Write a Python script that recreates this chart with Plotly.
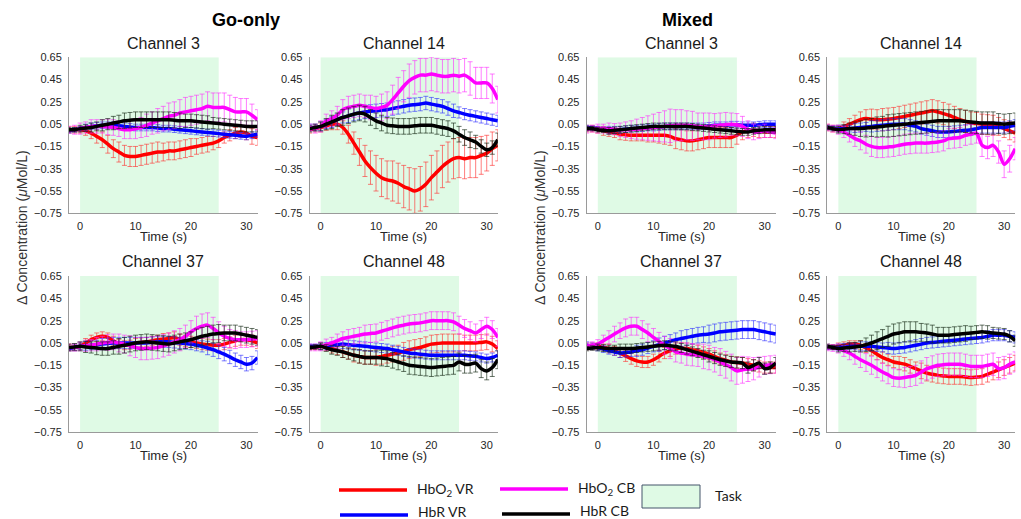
import plotly.graph_objects as go

# ---------------- data ----------------
time_s = list(range(-2, 33))
y_ticks = [0.65, 0.45, 0.25, 0.05, -0.15, -0.35, -0.55, -0.75]
y_tick_text = ["0.65", "0.45", "0.25", "0.05", "−0.15", "−0.35", "−0.55", "−0.75"]
x_ticks = [0, 10, 20, 30]
task_window = [0, 25]

series_names = ["HbO<sub>2</sub> VR", "HbR VR", "HbO<sub>2</sub> CB", "HbR CB"]
group_titles = ["Go-only", "Mixed"]
channel_titles = ["Channel 3", "Channel 14", "Channel 37", "Channel 48"]

# Go-only, Channel 3
go3_hbo2_vr = [0.0, 0.0, 0.0, -0.01, -0.03, -0.06, -0.09, -0.13, -0.17, -0.2, -0.23, -0.24, -0.24, -0.23, -0.22, -0.21, -0.2, -0.2, -0.19, -0.19, -0.18, -0.17, -0.16, -0.15, -0.14, -0.13, -0.12, -0.1, -0.07, -0.05, -0.03, -0.02, -0.03, -0.06, -0.07]
go3_hbo2_vr_err = [0.03, 0.03, 0.03, 0.04, 0.05, 0.06, 0.07, 0.08, 0.08, 0.09, 0.09, 0.09, 0.09, 0.09, 0.09, 0.09, 0.09, 0.08, 0.08, 0.08, 0.08, 0.08, 0.08, 0.07, 0.07, 0.07, 0.06, 0.06, 0.05, 0.05, 0.05, 0.05, 0.06, 0.07, 0.07]
go3_hbr_vr = [-0.01, 0.0, 0.01, 0.02, 0.03, 0.035, 0.04, 0.04, 0.04, 0.035, 0.03, 0.025, 0.02, 0.02, 0.02, 0.02, 0.015, 0.01, 0.01, 0.005, 0.0, -0.005, -0.01, -0.015, -0.02, -0.025, -0.03, -0.035, -0.04, -0.045, -0.05, -0.055, -0.06, -0.05, -0.04]
go3_hbr_vr_err = [0.02, 0.02, 0.02, 0.03, 0.03, 0.03, 0.03, 0.03, 0.03, 0.03, 0.03, 0.03, 0.03, 0.03, 0.03, 0.03, 0.03, 0.03, 0.03, 0.03, 0.03, 0.03, 0.03, 0.03, 0.03, 0.03, 0.03, 0.03, 0.03, 0.03, 0.03, 0.03, 0.03, 0.03, 0.03]
go3_hbo2_cb = [0.0, 0.0, 0.01, 0.02, 0.03, 0.03, 0.03, 0.025, 0.02, 0.01, 0.0, 0.0, 0.01, 0.02, 0.04, 0.06, 0.08, 0.1, 0.12, 0.13, 0.15, 0.16, 0.17, 0.18, 0.19, 0.21, 0.2, 0.2, 0.2, 0.18, 0.16, 0.16, 0.16, 0.13, 0.09]
go3_hbo2_cb_err = [0.03, 0.04, 0.05, 0.05, 0.06, 0.06, 0.06, 0.07, 0.07, 0.07, 0.08, 0.08, 0.09, 0.09, 0.1, 0.1, 0.11, 0.11, 0.12, 0.12, 0.12, 0.13, 0.13, 0.13, 0.13, 0.13, 0.13, 0.13, 0.13, 0.13, 0.13, 0.12, 0.12, 0.1, 0.09]
go3_hbr_cb = [0.0, 0.0, 0.01, 0.015, 0.02, 0.03, 0.04, 0.05, 0.06, 0.07, 0.08, 0.085, 0.09, 0.09, 0.09, 0.09, 0.09, 0.09, 0.09, 0.085, 0.08, 0.08, 0.08, 0.075, 0.07, 0.065, 0.06, 0.055, 0.05, 0.045, 0.04, 0.035, 0.03, 0.03, 0.03]
go3_hbr_cb_err = [0.02, 0.02, 0.03, 0.03, 0.04, 0.04, 0.05, 0.05, 0.06, 0.06, 0.07, 0.07, 0.07, 0.07, 0.07, 0.07, 0.07, 0.07, 0.07, 0.07, 0.07, 0.06, 0.06, 0.06, 0.06, 0.06, 0.05, 0.05, 0.05, 0.05, 0.05, 0.05, 0.05, 0.05, 0.05]

# Go-only, Channel 14
go14_hbo2_vr = [0.0, 0.01, 0.02, 0.035, 0.05, 0.05, 0.02, -0.04, -0.12, -0.2, -0.28, -0.34, -0.39, -0.43, -0.45, -0.46, -0.48, -0.51, -0.53, -0.55, -0.53, -0.49, -0.43, -0.38, -0.33, -0.29, -0.26, -0.25, -0.26, -0.25, -0.25, -0.23, -0.21, -0.17, -0.14]
go14_hbo2_vr_err = [0.03, 0.03, 0.04, 0.04, 0.05, 0.05, 0.06, 0.08, 0.1, 0.12, 0.14, 0.15, 0.16, 0.17, 0.17, 0.18, 0.18, 0.19, 0.19, 0.2, 0.2, 0.2, 0.2, 0.19, 0.19, 0.18, 0.18, 0.18, 0.18, 0.18, 0.18, 0.17, 0.16, 0.15, 0.14]
go14_hbr_vr = [0.02, 0.02, 0.03, 0.05, 0.07, 0.09, 0.11, 0.125, 0.14, 0.15, 0.16, 0.165, 0.17, 0.175, 0.18, 0.19, 0.2, 0.21, 0.22, 0.225, 0.23, 0.24, 0.23, 0.22, 0.21, 0.19, 0.17, 0.155, 0.14, 0.13, 0.12, 0.11, 0.1, 0.09, 0.08]
go14_hbr_vr_err = [0.03, 0.03, 0.04, 0.04, 0.05, 0.05, 0.05, 0.06, 0.06, 0.06, 0.06, 0.06, 0.06, 0.06, 0.06, 0.06, 0.06, 0.06, 0.06, 0.06, 0.06, 0.06, 0.06, 0.06, 0.06, 0.06, 0.06, 0.05, 0.05, 0.05, 0.05, 0.05, 0.05, 0.05, 0.05]
go14_hbo2_cb = [0.02, 0.01, 0.03, 0.08, 0.1, 0.13, 0.18, 0.2, 0.21, 0.22, 0.21, 0.2, 0.19, 0.2, 0.22, 0.27, 0.33, 0.39, 0.44, 0.47, 0.49, 0.49, 0.5, 0.49, 0.48, 0.48, 0.49, 0.48, 0.49, 0.46, 0.42, 0.42, 0.42, 0.37, 0.27]
go14_hbo2_cb_err = [0.03, 0.04, 0.05, 0.06, 0.07, 0.08, 0.09, 0.1, 0.1, 0.1, 0.1, 0.11, 0.11, 0.12, 0.12, 0.13, 0.14, 0.14, 0.15, 0.15, 0.15, 0.15, 0.15, 0.15, 0.15, 0.15, 0.15, 0.15, 0.15, 0.15, 0.14, 0.14, 0.14, 0.13, 0.12]
go14_hbr_cb = [0.01, 0.02, 0.03, 0.05, 0.07, 0.09, 0.11, 0.125, 0.14, 0.15, 0.14, 0.11, 0.08, 0.06, 0.04, 0.035, 0.03, 0.03, 0.03, 0.035, 0.04, 0.04, 0.04, 0.03, 0.02, 0.01, -0.01, -0.04, -0.07, -0.09, -0.11, -0.15, -0.18, -0.16, -0.09]
go14_hbr_cb_err = [0.03, 0.03, 0.04, 0.05, 0.06, 0.06, 0.07, 0.07, 0.07, 0.07, 0.07, 0.07, 0.07, 0.07, 0.07, 0.07, 0.07, 0.07, 0.07, 0.07, 0.07, 0.07, 0.07, 0.07, 0.07, 0.07, 0.07, 0.07, 0.07, 0.07, 0.06, 0.06, 0.06, 0.06, 0.06]

# Go-only, Channel 37
go37_hbo2_vr = [0.01, 0.01, 0.02, 0.05, 0.08, 0.1, 0.11, 0.1, 0.07, 0.04, 0.03, 0.035, 0.05, 0.055, 0.06, 0.07, 0.08, 0.085, 0.09, 0.1, 0.08, 0.07, 0.06, 0.05, 0.04, 0.035, 0.03, 0.03, 0.04, 0.055, 0.07, 0.08, 0.08, 0.07, 0.05]
go37_hbo2_vr_err = [0.03, 0.03, 0.03, 0.04, 0.04, 0.04, 0.04, 0.04, 0.04, 0.04, 0.04, 0.04, 0.04, 0.04, 0.04, 0.04, 0.04, 0.05, 0.05, 0.05, 0.05, 0.05, 0.05, 0.05, 0.05, 0.05, 0.05, 0.05, 0.05, 0.05, 0.05, 0.05, 0.05, 0.05, 0.05]
go37_hbr_vr = [0.0, 0.01, 0.02, 0.025, 0.03, 0.035, 0.04, 0.045, 0.05, 0.05, 0.05, 0.05, 0.05, 0.05, 0.05, 0.055, 0.06, 0.06, 0.06, 0.055, 0.05, 0.045, 0.04, 0.03, 0.02, 0.005, -0.01, -0.03, -0.05, -0.075, -0.1, -0.12, -0.14, -0.13, -0.08]
go37_hbr_vr_err = [0.02, 0.03, 0.03, 0.04, 0.04, 0.04, 0.05, 0.05, 0.05, 0.05, 0.05, 0.05, 0.05, 0.05, 0.05, 0.05, 0.05, 0.05, 0.05, 0.05, 0.05, 0.05, 0.05, 0.05, 0.05, 0.06, 0.06, 0.06, 0.06, 0.06, 0.06, 0.06, 0.06, 0.06, 0.06]
go37_hbo2_cb = [0.01, 0.01, 0.02, 0.025, 0.03, 0.04, 0.05, 0.055, 0.06, 0.05, 0.04, 0.025, 0.01, 0.0, 0.0, 0.005, 0.01, 0.025, 0.04, 0.06, 0.08, 0.11, 0.15, 0.18, 0.2, 0.21, 0.18, 0.14, 0.11, 0.09, 0.08, 0.08, 0.08, 0.085, 0.09]
go37_hbo2_cb_err = [0.03, 0.03, 0.04, 0.05, 0.05, 0.06, 0.06, 0.07, 0.07, 0.08, 0.08, 0.09, 0.09, 0.1, 0.1, 0.1, 0.1, 0.1, 0.1, 0.1, 0.1, 0.1, 0.1, 0.11, 0.11, 0.11, 0.1, 0.1, 0.09, 0.08, 0.08, 0.07, 0.07, 0.07, 0.07]
go37_hbr_cb = [0.01, 0.015, 0.02, 0.015, 0.01, 0.005, 0.0, 0.0, 0.01, 0.02, 0.03, 0.04, 0.05, 0.055, 0.06, 0.055, 0.05, 0.045, 0.04, 0.05, 0.06, 0.07, 0.08, 0.095, 0.11, 0.12, 0.13, 0.135, 0.14, 0.14, 0.14, 0.13, 0.12, 0.11, 0.1]
go37_hbr_cb_err = [0.03, 0.03, 0.04, 0.05, 0.05, 0.06, 0.06, 0.06, 0.06, 0.07, 0.07, 0.07, 0.07, 0.07, 0.07, 0.07, 0.07, 0.07, 0.07, 0.07, 0.07, 0.07, 0.07, 0.08, 0.08, 0.08, 0.08, 0.08, 0.07, 0.07, 0.07, 0.07, 0.07, 0.07, 0.07]

# Go-only, Channel 48
go48_hbo2_vr = [0.01, 0.01, 0.02, 0.01, 0.0, -0.015, -0.03, -0.045, -0.06, -0.07, -0.08, -0.08, -0.08, -0.07, -0.06, -0.05, -0.04, -0.025, -0.01, 0.0, 0.01, 0.025, 0.04, 0.045, 0.05, 0.05, 0.05, 0.05, 0.05, 0.05, 0.05, 0.055, 0.06, 0.04, 0.0]
go48_hbo2_vr_err = [0.02, 0.02, 0.03, 0.03, 0.04, 0.04, 0.05, 0.05, 0.06, 0.06, 0.06, 0.06, 0.07, 0.07, 0.07, 0.07, 0.07, 0.08, 0.08, 0.08, 0.08, 0.08, 0.08, 0.08, 0.08, 0.08, 0.08, 0.08, 0.07, 0.07, 0.07, 0.07, 0.07, 0.07, 0.07]
go48_hbr_vr = [0.02, 0.02, 0.02, 0.025, 0.03, 0.035, 0.04, 0.035, 0.03, 0.025, 0.02, 0.015, 0.01, 0.005, 0.0, -0.01, -0.02, -0.03, -0.04, -0.045, -0.05, -0.055, -0.06, -0.06, -0.06, -0.06, -0.06, -0.06, -0.06, -0.065, -0.07, -0.08, -0.09, -0.08, -0.06]
go48_hbr_vr_err = [0.02, 0.02, 0.03, 0.03, 0.03, 0.04, 0.04, 0.04, 0.04, 0.04, 0.04, 0.04, 0.04, 0.04, 0.04, 0.04, 0.04, 0.04, 0.04, 0.04, 0.04, 0.04, 0.04, 0.04, 0.04, 0.04, 0.04, 0.04, 0.04, 0.04, 0.04, 0.04, 0.04, 0.04, 0.04]
go48_hbo2_cb = [0.01, 0.01, 0.02, 0.035, 0.05, 0.07, 0.09, 0.1, 0.11, 0.12, 0.13, 0.135, 0.14, 0.155, 0.17, 0.185, 0.2, 0.21, 0.22, 0.225, 0.23, 0.24, 0.25, 0.25, 0.25, 0.25, 0.24, 0.21, 0.18, 0.16, 0.14, 0.17, 0.2, 0.17, 0.1]
go48_hbo2_cb_err = [0.03, 0.03, 0.04, 0.05, 0.05, 0.06, 0.06, 0.07, 0.07, 0.07, 0.08, 0.08, 0.08, 0.08, 0.08, 0.08, 0.08, 0.08, 0.08, 0.08, 0.08, 0.08, 0.08, 0.08, 0.08, 0.08, 0.08, 0.08, 0.08, 0.08, 0.08, 0.08, 0.08, 0.08, 0.08]
go48_hbr_cb = [0.01, 0.015, 0.02, 0.005, -0.01, -0.02, -0.03, -0.045, -0.06, -0.07, -0.08, -0.08, -0.08, -0.085, -0.09, -0.105, -0.12, -0.135, -0.15, -0.155, -0.16, -0.165, -0.17, -0.165, -0.16, -0.155, -0.15, -0.12, -0.14, -0.14, -0.13, -0.18, -0.2, -0.17, -0.1]
go48_hbr_cb_err = [0.02, 0.02, 0.03, 0.03, 0.04, 0.04, 0.05, 0.05, 0.05, 0.06, 0.06, 0.06, 0.06, 0.07, 0.07, 0.07, 0.07, 0.07, 0.08, 0.08, 0.08, 0.08, 0.08, 0.08, 0.08, 0.08, 0.08, 0.08, 0.08, 0.08, 0.08, 0.08, 0.08, 0.08, 0.08]

# Mixed, Channel 3
mx3_hbo2_vr = [0.01, 0.01, 0.0, -0.01, -0.02, -0.03, -0.04, -0.045, -0.05, -0.05, -0.05, -0.05, -0.05, -0.05, -0.05, -0.06, -0.08, -0.09, -0.1, -0.1, -0.09, -0.08, -0.07, -0.07, -0.07, -0.07, -0.07, -0.05, -0.02, -0.01, 0.0, -0.01, -0.02, -0.02, -0.02]
mx3_hbo2_vr_err = [0.03, 0.03, 0.03, 0.04, 0.04, 0.04, 0.05, 0.05, 0.05, 0.05, 0.05, 0.06, 0.06, 0.07, 0.08, 0.08, 0.09, 0.09, 0.09, 0.09, 0.09, 0.09, 0.09, 0.09, 0.09, 0.09, 0.09, 0.08, 0.07, 0.06, 0.06, 0.06, 0.05, 0.05, 0.05]
mx3_hbr_vr = [0.02, 0.015, 0.01, 0.005, 0.0, 0.0, 0.0, 0.005, 0.01, 0.01, 0.015, 0.02, 0.02, 0.025, 0.03, 0.03, 0.03, 0.03, 0.03, 0.03, 0.03, 0.03, 0.035, 0.04, 0.04, 0.04, 0.045, 0.045, 0.04, 0.04, 0.04, 0.045, 0.05, 0.05, 0.05]
mx3_hbr_vr_err = [0.02, 0.02, 0.02, 0.02, 0.03, 0.03, 0.03, 0.03, 0.03, 0.03, 0.03, 0.03, 0.03, 0.03, 0.03, 0.03, 0.03, 0.03, 0.03, 0.03, 0.03, 0.03, 0.03, 0.03, 0.03, 0.03, 0.03, 0.03, 0.03, 0.03, 0.03, 0.03, 0.03, 0.03, 0.03]
mx3_hbo2_cb = [0.0, 0.01, 0.01, 0.01, 0.01, 0.005, 0.0, 0.0, 0.0, 0.005, 0.01, 0.015, 0.02, 0.025, 0.03, 0.035, 0.04, 0.04, 0.04, 0.035, 0.03, 0.03, 0.03, 0.035, 0.04, 0.045, 0.05, 0.045, 0.03, 0.0, -0.02, -0.02, -0.01, -0.02, -0.03]
mx3_hbo2_cb_err = [0.03, 0.03, 0.04, 0.04, 0.05, 0.05, 0.06, 0.07, 0.08, 0.09, 0.1, 0.11, 0.12, 0.13, 0.14, 0.15, 0.14, 0.14, 0.13, 0.13, 0.12, 0.12, 0.12, 0.11, 0.11, 0.11, 0.1, 0.1, 0.09, 0.08, 0.07, 0.06, 0.06, 0.05, 0.05]
mx3_hbr_cb = [0.01, 0.01, 0.0, -0.005, -0.01, -0.005, 0.0, 0.005, 0.01, 0.015, 0.02, 0.025, 0.03, 0.03, 0.03, 0.03, 0.03, 0.03, 0.03, 0.025, 0.02, 0.015, 0.01, 0.005, 0.0, -0.005, -0.01, -0.015, -0.02, -0.02, -0.01, -0.005, 0.0, 0.0, 0.0]
mx3_hbr_cb_err = [0.02, 0.02, 0.02, 0.02, 0.03, 0.03, 0.03, 0.03, 0.03, 0.03, 0.03, 0.03, 0.03, 0.03, 0.03, 0.03, 0.03, 0.03, 0.03, 0.03, 0.03, 0.03, 0.03, 0.03, 0.03, 0.03, 0.03, 0.03, 0.03, 0.03, 0.03, 0.03, 0.03, 0.03, 0.03]

# Mixed, Channel 14
mx14_hbo2_vr = [0.02, 0.01, 0.01, 0.03, 0.05, 0.07, 0.09, 0.1, 0.095, 0.09, 0.09, 0.095, 0.1, 0.11, 0.12, 0.13, 0.14, 0.15, 0.16, 0.17, 0.16, 0.145, 0.13, 0.11, 0.09, 0.075, 0.06, 0.055, 0.05, 0.045, 0.04, 0.03, 0.01, -0.01, -0.03]
mx14_hbo2_vr_err = [0.03, 0.03, 0.03, 0.04, 0.05, 0.06, 0.07, 0.08, 0.09, 0.09, 0.1, 0.1, 0.1, 0.1, 0.1, 0.1, 0.1, 0.1, 0.1, 0.1, 0.1, 0.1, 0.1, 0.1, 0.1, 0.1, 0.1, 0.1, 0.09, 0.09, 0.09, 0.08, 0.08, 0.08, 0.08]
mx14_hbr_vr = [0.02, 0.015, 0.01, 0.01, 0.01, 0.015, 0.02, 0.025, 0.03, 0.035, 0.04, 0.045, 0.05, 0.05, 0.05, 0.04, 0.03, 0.01, 0.0, -0.01, -0.02, -0.02, -0.02, -0.015, -0.01, -0.005, 0.0, 0.01, 0.02, 0.02, 0.02, 0.02, 0.02, 0.03, 0.04]
mx14_hbr_vr_err = [0.02, 0.02, 0.03, 0.03, 0.03, 0.04, 0.04, 0.04, 0.05, 0.05, 0.05, 0.05, 0.05, 0.05, 0.05, 0.05, 0.05, 0.05, 0.05, 0.05, 0.05, 0.05, 0.05, 0.05, 0.05, 0.05, 0.05, 0.05, 0.05, 0.05, 0.05, 0.05, 0.05, 0.05, 0.05]
mx14_hbo2_cb = [0.02, 0.01, 0.0, -0.02, -0.05, -0.08, -0.1, -0.13, -0.15, -0.16, -0.16, -0.155, -0.15, -0.14, -0.13, -0.125, -0.12, -0.12, -0.12, -0.115, -0.11, -0.1, -0.08, -0.075, -0.07, -0.05, -0.04, -0.03, -0.14, -0.16, -0.14, -0.2, -0.31, -0.26, -0.17]
mx14_hbo2_cb_err = [0.03, 0.03, 0.04, 0.05, 0.06, 0.07, 0.08, 0.08, 0.09, 0.09, 0.09, 0.09, 0.09, 0.09, 0.09, 0.09, 0.09, 0.09, 0.09, 0.09, 0.09, 0.09, 0.09, 0.09, 0.09, 0.09, 0.09, 0.09, 0.1, 0.1, 0.1, 0.1, 0.12, 0.12, 0.1]
mx14_hbr_cb = [0.02, 0.01, 0.0, 0.005, 0.01, 0.01, 0.01, 0.015, 0.02, 0.025, 0.03, 0.035, 0.04, 0.045, 0.05, 0.055, 0.06, 0.065, 0.07, 0.075, 0.08, 0.08, 0.08, 0.08, 0.08, 0.075, 0.07, 0.065, 0.06, 0.06, 0.06, 0.055, 0.05, 0.055, 0.06]
mx14_hbr_cb_err = [0.02, 0.02, 0.03, 0.04, 0.05, 0.06, 0.07, 0.08, 0.08, 0.09, 0.09, 0.1, 0.1, 0.1, 0.1, 0.1, 0.1, 0.1, 0.1, 0.1, 0.1, 0.1, 0.1, 0.1, 0.1, 0.1, 0.1, 0.1, 0.1, 0.1, 0.1, 0.09, 0.09, 0.09, 0.09]

# Mixed, Channel 37
mx37_hbo2_vr = [0.02, 0.02, 0.02, 0.01, 0.0, -0.02, -0.04, -0.065, -0.09, -0.11, -0.12, -0.12, -0.1, -0.07, -0.04, -0.02, 0.0, 0.005, 0.0, -0.01, -0.02, -0.035, -0.05, -0.07, -0.09, -0.105, -0.12, -0.125, -0.13, -0.14, -0.15, -0.16, -0.17, -0.17, -0.17]
mx37_hbo2_vr_err = [0.03, 0.03, 0.03, 0.03, 0.04, 0.04, 0.04, 0.05, 0.05, 0.05, 0.05, 0.05, 0.05, 0.05, 0.05, 0.05, 0.05, 0.05, 0.05, 0.05, 0.05, 0.05, 0.05, 0.05, 0.05, 0.05, 0.05, 0.05, 0.05, 0.05, 0.05, 0.05, 0.05, 0.05, 0.05]
mx37_hbr_vr = [0.03, 0.02, 0.01, -0.005, -0.02, -0.03, -0.04, -0.035, -0.03, -0.02, -0.01, 0.005, 0.02, 0.035, 0.05, 0.065, 0.08, 0.09, 0.1, 0.11, 0.12, 0.125, 0.13, 0.14, 0.15, 0.155, 0.16, 0.165, 0.17, 0.17, 0.17, 0.16, 0.15, 0.14, 0.13]
mx37_hbr_vr_err = [0.03, 0.03, 0.03, 0.03, 0.03, 0.03, 0.04, 0.04, 0.04, 0.05, 0.05, 0.05, 0.05, 0.06, 0.06, 0.06, 0.06, 0.07, 0.07, 0.07, 0.07, 0.07, 0.08, 0.08, 0.08, 0.08, 0.08, 0.08, 0.08, 0.08, 0.08, 0.08, 0.08, 0.08, 0.08]
mx37_hbo2_cb = [0.02, 0.03, 0.04, 0.07, 0.1, 0.13, 0.16, 0.185, 0.2, 0.2, 0.17, 0.14, 0.1, 0.065, 0.03, 0.0, -0.03, -0.04, -0.05, -0.055, -0.06, -0.07, -0.08, -0.1, -0.12, -0.145, -0.17, -0.2, -0.19, -0.185, -0.18, -0.165, -0.15, -0.145, -0.14]
mx37_hbo2_cb_err = [0.03, 0.03, 0.04, 0.05, 0.06, 0.07, 0.07, 0.08, 0.08, 0.08, 0.08, 0.08, 0.08, 0.08, 0.08, 0.09, 0.09, 0.09, 0.1, 0.1, 0.1, 0.11, 0.11, 0.11, 0.12, 0.12, 0.12, 0.12, 0.12, 0.11, 0.1, 0.09, 0.08, 0.08, 0.08]
mx37_hbr_cb = [0.0, 0.005, 0.01, 0.005, 0.0, 0.0, 0.0, 0.0, 0.0, 0.005, 0.01, 0.015, 0.02, 0.025, 0.03, 0.025, 0.02, 0.005, -0.01, -0.025, -0.04, -0.055, -0.07, -0.085, -0.1, -0.11, -0.12, -0.125, -0.13, -0.17, -0.15, -0.13, -0.18, -0.17, -0.13]
mx37_hbr_cb_err = [0.02, 0.02, 0.03, 0.03, 0.03, 0.03, 0.04, 0.04, 0.04, 0.04, 0.04, 0.04, 0.04, 0.04, 0.04, 0.04, 0.04, 0.04, 0.04, 0.04, 0.04, 0.04, 0.05, 0.05, 0.05, 0.05, 0.05, 0.05, 0.05, 0.05, 0.05, 0.05, 0.05, 0.05, 0.05]

# Mixed, Channel 48
mx48_hbo2_vr = [0.01, 0.015, 0.02, 0.03, 0.04, 0.04, 0.03, 0.005, -0.02, -0.05, -0.08, -0.1, -0.12, -0.13, -0.14, -0.16, -0.18, -0.2, -0.22, -0.23, -0.24, -0.245, -0.25, -0.25, -0.25, -0.255, -0.26, -0.255, -0.25, -0.23, -0.21, -0.19, -0.17, -0.15, -0.13]
mx48_hbo2_vr_err = [0.02, 0.02, 0.03, 0.03, 0.03, 0.03, 0.04, 0.04, 0.04, 0.05, 0.05, 0.05, 0.05, 0.06, 0.06, 0.06, 0.06, 0.07, 0.07, 0.07, 0.07, 0.07, 0.07, 0.07, 0.07, 0.07, 0.07, 0.07, 0.07, 0.07, 0.07, 0.07, 0.07, 0.07, 0.07]
mx48_hbr_vr = [0.01, 0.01, 0.01, 0.015, 0.02, 0.02, 0.02, 0.02, 0.02, 0.015, 0.01, 0.005, 0.0, 0.005, 0.01, 0.02, 0.03, 0.04, 0.05, 0.055, 0.06, 0.065, 0.07, 0.075, 0.08, 0.085, 0.09, 0.095, 0.1, 0.11, 0.12, 0.12, 0.12, 0.11, 0.1]
mx48_hbr_vr_err = [0.02, 0.02, 0.03, 0.03, 0.03, 0.03, 0.04, 0.04, 0.04, 0.04, 0.04, 0.05, 0.05, 0.05, 0.05, 0.05, 0.05, 0.05, 0.05, 0.05, 0.05, 0.05, 0.05, 0.05, 0.05, 0.05, 0.05, 0.05, 0.05, 0.05, 0.05, 0.05, 0.05, 0.05, 0.05]
mx48_hbo2_cb = [0.01, 0.005, 0.0, -0.02, -0.04, -0.07, -0.1, -0.125, -0.15, -0.18, -0.21, -0.235, -0.26, -0.265, -0.26, -0.25, -0.24, -0.21, -0.18, -0.165, -0.15, -0.145, -0.14, -0.14, -0.14, -0.15, -0.16, -0.16, -0.16, -0.15, -0.14, -0.18, -0.17, -0.14, -0.12]
mx48_hbo2_cb_err = [0.03, 0.03, 0.04, 0.05, 0.06, 0.07, 0.07, 0.08, 0.08, 0.08, 0.08, 0.08, 0.08, 0.08, 0.09, 0.09, 0.09, 0.1, 0.1, 0.1, 0.1, 0.1, 0.1, 0.1, 0.1, 0.1, 0.1, 0.1, 0.1, 0.1, 0.1, 0.1, 0.1, 0.09, 0.09]
mx48_hbr_cb = [0.02, 0.01, 0.0, 0.005, 0.01, 0.015, 0.02, 0.035, 0.05, 0.07, 0.09, 0.11, 0.13, 0.14, 0.15, 0.15, 0.15, 0.145, 0.14, 0.13, 0.12, 0.12, 0.12, 0.125, 0.13, 0.135, 0.14, 0.145, 0.15, 0.145, 0.14, 0.135, 0.13, 0.11, 0.07]
mx48_hbr_cb_err = [0.02, 0.02, 0.03, 0.03, 0.04, 0.04, 0.05, 0.06, 0.07, 0.08, 0.08, 0.09, 0.09, 0.09, 0.09, 0.09, 0.09, 0.08, 0.08, 0.08, 0.07, 0.07, 0.07, 0.07, 0.07, 0.07, 0.06, 0.06, 0.06, 0.06, 0.05, 0.05, 0.05, 0.05, 0.05]

# ---------------- styling ----------------
line_colors = ["#ff0000", "#0000ff", "#ff00ff", "#000000"]
err_colors = ["rgba(255,40,40,0.6)", "rgba(40,40,255,0.6)",
              "rgba(255,40,255,0.6)", "rgba(20,40,20,0.65)"]
task_fill = "#dffae5"
font_family = "Liberation Sans, Arial, sans-serif"

panels = [
    ([go3_hbo2_vr, go3_hbr_vr, go3_hbo2_cb, go3_hbr_cb],
     [go3_hbo2_vr_err, go3_hbr_vr_err, go3_hbo2_cb_err, go3_hbr_cb_err], 0, 0, channel_titles[0]),
    ([go14_hbo2_vr, go14_hbr_vr, go14_hbo2_cb, go14_hbr_cb],
     [go14_hbo2_vr_err, go14_hbr_vr_err, go14_hbo2_cb_err, go14_hbr_cb_err], 1, 0, channel_titles[1]),
    ([go37_hbo2_vr, go37_hbr_vr, go37_hbo2_cb, go37_hbr_cb],
     [go37_hbo2_vr_err, go37_hbr_vr_err, go37_hbo2_cb_err, go37_hbr_cb_err], 0, 1, channel_titles[2]),
    ([go48_hbo2_vr, go48_hbr_vr, go48_hbo2_cb, go48_hbr_cb],
     [go48_hbo2_vr_err, go48_hbr_vr_err, go48_hbo2_cb_err, go48_hbr_cb_err], 1, 1, channel_titles[3]),
    ([mx3_hbo2_vr, mx3_hbr_vr, mx3_hbo2_cb, mx3_hbr_cb],
     [mx3_hbo2_vr_err, mx3_hbr_vr_err, mx3_hbo2_cb_err, mx3_hbr_cb_err], 2, 0, channel_titles[0]),
    ([mx14_hbo2_vr, mx14_hbr_vr, mx14_hbo2_cb, mx14_hbr_cb],
     [mx14_hbo2_vr_err, mx14_hbr_vr_err, mx14_hbo2_cb_err, mx14_hbr_cb_err], 3, 0, channel_titles[1]),
    ([mx37_hbo2_vr, mx37_hbr_vr, mx37_hbo2_cb, mx37_hbr_cb],
     [mx37_hbo2_vr_err, mx37_hbr_vr_err, mx37_hbo2_cb_err, mx37_hbr_cb_err], 2, 1, channel_titles[2]),
    ([mx48_hbo2_vr, mx48_hbr_vr, mx48_hbo2_cb, mx48_hbr_cb],
     [mx48_hbo2_vr_err, mx48_hbr_vr_err, mx48_hbo2_cb_err, mx48_hbr_cb_err], 3, 1, channel_titles[3]),
]

W, H = 1021, 519
col_domains = [[69 / W, 257.5 / W], [309.6 / W, 497.8 / W],
               [586.7 / W, 775.8 / W], [827.3 / W, 1015.2 / W]]
row_px = [(57.3, 213.3), (276.0, 432.3)]
row_domains = [[1 - b / H, 1 - t / H] for t, b in row_px]

fig = go.Figure()
layout = dict(
    width=W, height=H, autosize=False,
    margin=dict(l=0, r=0, t=0, b=0, pad=0),
    paper_bgcolor="white", plot_bgcolor="white",
    showlegend=False,
    font=dict(family=font_family, color="#262626"),
)
shapes = []
annotations = []

for i, (series, errs, col, row, title) in enumerate(panels):
    n = i + 1
    xa = "x" if n == 1 else f"x{n}"
    ya = "y" if n == 1 else f"y{n}"
    layout["xaxis" if n == 1 else f"xaxis{n}"] = dict(
        domain=col_domains[col], anchor=ya, range=[-2, 32],
        tickvals=x_ticks, ticks="", showgrid=False, zeroline=False,
        showline=True, linecolor="#9a9a9a", linewidth=1,
        tickfont=dict(size=11, color="#262626"), ticklabelstandoff=2,
        automargin=False,
    )
    layout["yaxis" if n == 1 else f"yaxis{n}"] = dict(
        domain=row_domains[row], anchor=xa, range=[-0.75, 0.65],
        tickvals=y_ticks, ticktext=y_tick_text, ticks="", showgrid=False,
        zeroline=False, showline=True, linecolor="#9a9a9a", linewidth=1,
        tickfont=dict(size=11, color="#262626"), ticklabelstandoff=4,
        automargin=False,
    )
    shapes.append(dict(type="rect", xref=xa, yref=ya,
                       x0=task_window[0], x1=task_window[1], y0=-0.75, y1=0.65,
                       fillcolor=task_fill, line=dict(width=0), layer="below"))
    for k in range(4):
        fig.add_trace(go.Scatter(
            x=time_s, y=series[k], xaxis=xa, yaxis=ya, mode="lines",
            name=series_names[k],
            line=dict(color=line_colors[k], width=3.5, shape="spline", smoothing=0.8),
            error_y=dict(type="data", array=errs[k], visible=True,
                         color=err_colors[k], thickness=1, width=2.5),
            hoverinfo="skip",
        ))
    cx = (col_domains[col][0] + col_domains[col][1]) / 2
    annotations.append(dict(text=title, xref="paper", yref="paper", x=cx,
                            y=row_domains[row][1] + 14 / H, xanchor="center",
                            yanchor="middle", showarrow=False,
                            font=dict(size=16, color="#1a1a1a")))
    annotations.append(dict(text="Time (s)", xref="paper", yref="paper", x=cx,
                            y=row_domains[row][0] - 23 / H, xanchor="center",
                            yanchor="middle", showarrow=False,
                            font=dict(size=13, color="#262626")))

# group headers
for g, xc in zip(group_titles, [246, 687]):
    annotations.append(dict(text=f"<b>{g}</b>", xref="paper", yref="paper",
                            x=xc / W, y=1 - 20 / H, xanchor="center", yanchor="middle",
                            showarrow=False,
                            font=dict(size=18, color="black",
                                      family="Liberation Sans Narrow, Liberation Sans, Arial")))

# y axis titles
for xc in [22, 540]:
    annotations.append(dict(text="Δ Concentration (<i>μ</i>Mol/L)", xref="paper",
                            yref="paper", x=xc / W, y=1 - 228 / H, xanchor="center",
                            yanchor="middle", textangle=-90, showarrow=False,
                            font=dict(size=14, color="#333333")))

# custom legend (line position, text centre)
legend_font = dict(size=14, color="#1a1a1a", family="Lato, Liberation Sans, Arial")
legend_items = [(339, 407, 490, 489, 0), (340, 408, 515, 511, 1),
                (500, 568, 489, 488, 2), (502, 570, 514, 510, 3)]
for x0, x1, yy, ty, k in legend_items:
    shapes.append(dict(type="line", xref="paper", yref="paper",
                       x0=x0 / W, x1=x1 / W, y0=1 - yy / H, y1=1 - yy / H,
                       line=dict(color=line_colors[k], width=3.5)))
    annotations.append(dict(text=series_names[k], xref="paper", yref="paper",
                            x=(x1 + 8) / W, y=1 - ty / H, xanchor="left",
                            yanchor="middle", showarrow=False, font=legend_font))
shapes.append(dict(type="rect", xref="paper", yref="paper",
                   x0=642 / W, x1=700 / W, y0=1 - 508 / H, y1=1 - 485 / H,
                   fillcolor=task_fill, line=dict(color="#44546a", width=1)))
annotations.append(dict(text="Task", xref="paper", yref="paper", x=713 / W,
                        y=1 - 495 / H, xanchor="left", yanchor="middle",
                        showarrow=False, font=legend_font))

layout["shapes"] = shapes
layout["annotations"] = annotations
fig.update_layout(**layout)
fig.write_html(
    "out.html",
    config={"displayModeBar": False, "responsive": False},
    post_script=(
        "var s='margin:0;padding:0;overflow:hidden;height:519px;width:1021px;';"
        "document.documentElement.style.cssText=s;document.body.style.cssText=s;"
    ),
)
